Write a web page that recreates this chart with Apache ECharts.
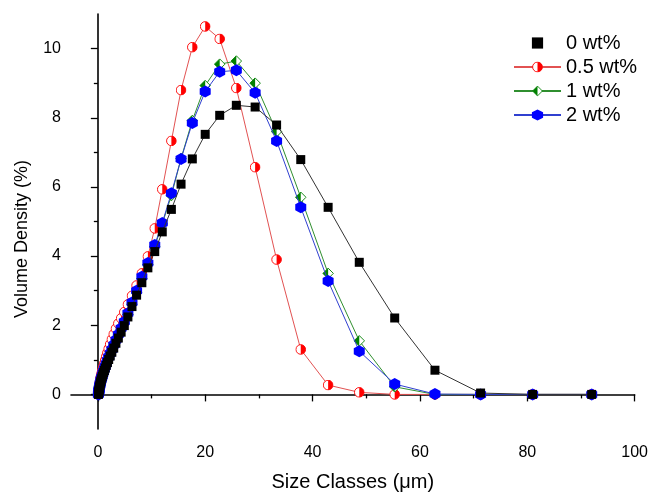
<!DOCTYPE html>
<html>
<head>
<meta charset="utf-8">
<script src="https://cdn.jsdelivr.net/npm/echarts@6/dist/echarts.min.js"></script>
<style>
  html, body { margin: 0; padding: 0; background: #fff; }
  #chart { width: 651px; height: 497px; }
</style>
</head>
<body>
<div id="chart"></div>
<script>
// Particle size classes (µm)
const sizeClasses = [0.10, 0.12, 0.14, 0.16, 0.18, 0.20, 0.23, 0.26, 0.30, 0.34, 0.39, 0.44, 0.50, 0.57, 0.64, 0.73, 0.83, 0.94, 1.07, 1.22, 1.38, 1.57, 1.78, 2.02, 2.30, 2.61, 2.96, 3.37, 3.82, 4.34, 4.93, 5.60, 6.36, 7.22, 8.20, 9.32, 10.6, 12.0, 13.7, 15.5, 17.6, 20.0, 22.7, 25.8, 29.3, 33.3, 37.8, 42.9, 48.7, 55.3, 62.8, 71.3, 81.0, 92.0];

// Volume density (%) for each additive loading
const density0 = [0, 0.02, 0.04, 0.06, 0.08, 0.10, 0.13, 0.16, 0.19, 0.22, 0.26, 0.30, 0.34, 0.38, 0.42, 0.47, 0.52, 0.57, 0.63, 0.69, 0.76, 0.84, 0.92, 1.01, 1.11, 1.22, 1.34, 1.48, 1.63, 1.80, 1.99, 2.24, 2.54, 2.87, 3.23, 3.66, 4.13, 4.70, 5.35, 6.08, 6.81, 7.52, 8.07, 8.36, 8.31, 7.79, 6.79, 5.41, 3.82, 2.21, 0.70, 0.04, 0.00, 0.00];
const density05 = [0, 0.03, 0.06, 0.09, 0.12, 0.15, 0.19, 0.23, 0.27, 0.31, 0.36, 0.41, 0.46, 0.51, 0.56, 0.62, 0.68, 0.75, 0.82, 0.90, 0.99, 1.09, 1.20, 1.32, 1.45, 1.59, 1.74, 1.90, 2.05, 2.20, 2.38, 2.60, 2.85, 3.15, 3.50, 3.99, 4.80, 5.93, 7.33, 8.80, 10.04, 10.64, 10.28, 8.86, 6.57, 3.90, 1.30, 0.27, 0.06, 0.00, 0.00, 0.00, 0.00, 0.00];
const density1 = [0, 0.02, 0.04, 0.06, 0.08, 0.10, 0.13, 0.16, 0.19, 0.23, 0.27, 0.31, 0.35, 0.39, 0.43, 0.48, 0.53, 0.58, 0.64, 0.71, 0.78, 0.86, 0.95, 1.04, 1.14, 1.26, 1.39, 1.53, 1.69, 1.87, 2.06, 2.31, 2.61, 2.95, 3.35, 3.76, 4.28, 4.93, 5.75, 6.82, 7.92, 8.93, 9.55, 9.64, 9.00, 7.60, 5.70, 3.50, 1.55, 0.22, 0.00, 0.00, 0.00, 0.00];
const density2 = [0, 0.02, 0.04, 0.07, 0.09, 0.11, 0.14, 0.17, 0.21, 0.24, 0.28, 0.32, 0.36, 0.41, 0.45, 0.50, 0.55, 0.61, 0.67, 0.74, 0.81, 0.89, 0.98, 1.08, 1.18, 1.30, 1.43, 1.57, 1.73, 1.91, 2.10, 2.35, 2.66, 3.00, 3.40, 3.80, 4.32, 4.96, 5.82, 6.81, 7.85, 8.76, 9.33, 9.37, 8.72, 7.33, 5.41, 3.28, 1.25, 0.30, 0.01, 0.00, 0.00, 0.00];

const seriesNames = ['0 wt%', '0.5 wt%', '1 wt%', '2 wt%'];
const xTickValues = [0, 20, 40, 60, 80, 100];
const xMinorValues = [10, 30, 50, 70, 90];
const yTickValues = [0, 2, 4, 6, 8, 10];
const yMinorValues = [1, 3, 5, 7, 9];

const FONT = '"Liberation Sans", Arial, sans-serif';

// Half-filled marker glyphs
function svgSymbol(svg) {
  return 'image://data:image/svg+xml;charset=utf-8,' + encodeURIComponent(svg);
}
const halfCircle = svgSymbol(
  "<svg xmlns='http://www.w3.org/2000/svg' width='24' height='24' viewBox='0 0 24 24'>" +
  "<circle cx='12' cy='12' r='10.5' fill='#ffffff' stroke='#ff0000' stroke-width='2'/>" +
  "<path d='M12 1.5 A10.5 10.5 0 0 1 12 22.5 Z' fill='#ff0000'/></svg>");
const halfDiamond = svgSymbol(
  "<svg xmlns='http://www.w3.org/2000/svg' width='24' height='24' viewBox='0 0 24 24'>" +
  "<path d='M12 1.5 L22.5 12 L12 22.5 L1.5 12 Z' fill='#ffffff' stroke='#008000' stroke-width='1.8'/>" +
  "<path d='M12 1.5 L12 22.5 L1.5 12 Z' fill='#008000'/></svg>");
const hexagon = 'path://M0,-1 L0.866,-0.5 L0.866,0.5 L0,1 L-0.866,0.5 L-0.866,-0.5 Z';

function pairs(values) {
  return sizeClasses.map((x, i) => [x, values[i]]);
}

const chart = echarts.init(document.getElementById('chart'), null, { renderer: 'canvas' });

const axisLineStyle = { color: '#000', width: 1.6 };

chart.setOption({
  animation: false,
  backgroundColor: '#fff',
  grid: { left: 71, right: 14, top: 14, bottom: 61, containLabel: false },
  graphic: [
    {
      type: 'text',
      x: 22, y: 239,
      rotation: Math.PI / 2,
      style: {
        text: 'Volume Density (%)',
        fontFamily: FONT, fontSize: 18, fill: '#000',
        align: 'center', verticalAlign: 'middle'
      }
    }
  ],
  legend: {
    orient: 'vertical',
    left: 508,
    top: 28,
    itemWidth: 47,
    itemHeight: 14,
    itemGap: 4,
    textStyle: { fontFamily: FONT, fontSize: 20, color: '#000' },
    data: [
      { name: '0 wt%', lineStyle: { opacity: 0 } },
      { name: '0.5 wt%' },
      { name: '1 wt%' },
      { name: '2 wt%' }
    ]
  },
  xAxis: [
    {
      type: 'value', min: -5, max: 100,
      name: 'Size Classes (μm)', nameLocation: 'middle', nameGap: 43,
      nameTextStyle: { fontFamily: FONT, fontSize: 20, color: '#000' },
      axisLine: { show: true, lineStyle: axisLineStyle },
      axisTick: { show: true, inside: false, length: 7, customValues: xTickValues, lineStyle: { color: '#000', width: 1.3 } },
      axisLabel: { customValues: xTickValues, fontFamily: FONT, fontSize: 16, color: '#000', margin: 16 },
      splitLine: { show: false }
    },
    {
      type: 'value', min: -5, max: 100, position: 'bottom',
      axisLine: { show: false },
      axisTick: { show: true, inside: false, length: 4, customValues: xMinorValues, lineStyle: { color: '#000', width: 1.3 } },
      axisLabel: { show: false },
      splitLine: { show: false }
    }
  ],
  yAxis: [
    {
      type: 'value', min: -1, max: 11,
      axisLine: { show: true, lineStyle: axisLineStyle },
      axisTick: { show: true, inside: false, length: 7, customValues: yTickValues, lineStyle: { color: '#000', width: 1.3 } },
      axisLabel: { customValues: yTickValues, fontFamily: FONT, fontSize: 16, color: '#000', margin: 10 },
      splitLine: { show: false }
    },
    {
      type: 'value', min: -1, max: 11, position: 'left',
      axisLine: { show: false },
      axisTick: { show: true, inside: false, length: 4, customValues: yMinorValues, lineStyle: { color: '#000', width: 1.3 } },
      axisLabel: { show: false },
      splitLine: { show: false }
    }
  ],
  series: [
    {
      name: seriesNames[1], type: 'line', data: pairs(density05), z: 2,
      symbol: halfCircle, symbolSize: 11,
      lineStyle: { color: '#e25252', width: 1 },
      itemStyle: { color: '#ff0000' }
    },
    {
      name: seriesNames[2], type: 'line', data: pairs(density1), z: 3,
      symbol: halfDiamond, symbolSize: 12,
      lineStyle: { color: '#2f8f2f', width: 1 },
      itemStyle: { color: '#008000' }
    },
    {
      name: seriesNames[3], type: 'line', data: pairs(density2), z: 4,
      symbol: hexagon, symbolSize: [11, 12],
      lineStyle: { color: '#3040d0', width: 1 },
      itemStyle: { color: '#0000ff' }
    },
    {
      name: seriesNames[0], type: 'line', data: pairs(density0), z: 5,
      symbol: 'rect', symbolSize: 9,
      lineStyle: { color: '#333333', width: 1 },
      itemStyle: { color: '#000000' }
    }
  ]
});
</script>
</body>
</html>
